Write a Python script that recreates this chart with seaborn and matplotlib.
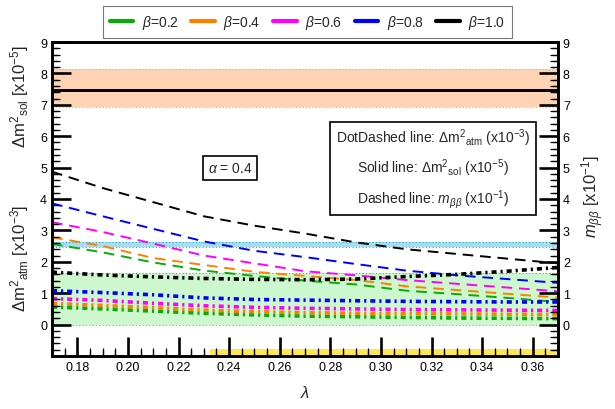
import numpy as np
import pandas as pd
import matplotlib
matplotlib.use("Agg")
import matplotlib.pyplot as plt
import matplotlib.transforms as mtransforms
from matplotlib.collections import LineCollection
from matplotlib.lines import Line2D
from matplotlib.ticker import MultipleLocator
import seaborn as sns

sns.set_theme(style="ticks")
plt.rcParams['font.family'] = ['Liberation Sans', 'DejaVu Sans']
plt.rcParams['mathtext.fontset'] = 'custom'
plt.rcParams['mathtext.rm'] = 'Liberation Sans'
plt.rcParams['mathtext.it'] = 'Liberation Sans:italic'
plt.rcParams['mathtext.bf'] = 'Liberation Sans:bold'
plt.rcParams.update({
    'axes.linewidth': 1.9, 'axes.edgecolor': 'black',
    'xtick.direction': 'in', 'ytick.direction': 'in',
    'xtick.bottom': True, 'ytick.left': True,
    'xtick.major.size': 14, 'ytick.major.size': 14,
    'xtick.minor.size': 6, 'ytick.minor.size': 6,
    'xtick.major.width': 1.9, 'ytick.major.width': 1.9,
    'xtick.minor.width': 0.9, 'ytick.minor.width': 0.9,
    'xtick.color': 'black', 'ytick.color': 'black',
    'xtick.labelsize': 9, 'ytick.labelsize': 9,
})

# ---- data ----
lam = [0.17, 0.19, 0.21, 0.23, 0.25, 0.27, 0.29, 0.31, 0.33, 0.35, 0.37]
betas = ["0.2", "0.4", "0.6", "0.8", "1.0"]
colors = ["#0aaa0a", "#ff8000", "#ff00ff", "#0000ff", "#000000"]

# m_bb (x10^-1), dashed
mbb_02 = [2.57, 2.30, 1.98, 1.72, 1.55, 1.40, 1.28, 1.08, 0.97, 0.85, 0.72]
mbb_04 = [2.78, 2.50, 2.12, 1.90, 1.68, 1.55, 1.42, 1.22, 1.10, 0.98, 0.86]
mbb_06 = [3.26, 2.95, 2.58, 2.20, 1.95, 1.70, 1.57, 1.42, 1.30, 1.18, 1.06]
mbb_08 = [3.86, 3.45, 3.05, 2.65, 2.35, 2.15, 1.93, 1.72, 1.57, 1.45, 1.33]
mbb_10 = [4.87, 4.35, 3.90, 3.45, 3.15, 2.90, 2.62, 2.40, 2.25, 2.10, 1.95]

# dm2_atm (x10^-3), dot-dashed
atm_02 = [0.56, 0.50, 0.43, 0.36, 0.31, 0.27, 0.25, 0.23, 0.21, 0.20, 0.19]
atm_04 = [0.67, 0.61, 0.54, 0.46, 0.41, 0.38, 0.36, 0.35, 0.34, 0.33, 0.32]
atm_06 = [0.83, 0.77, 0.68, 0.60, 0.55, 0.52, 0.50, 0.48, 0.47, 0.46, 0.45]
atm_08 = [1.08, 1.02, 0.95, 0.85, 0.80, 0.78, 0.76, 0.74, 0.73, 0.72, 0.72]
atm_10 = [1.67, 1.58, 1.52, 1.47, 1.44, 1.43, 1.45, 1.53, 1.60, 1.70, 1.82]

# dm2_sol (x10^-5), solid
sol_val = [7.48] * 5

# experimental bands
sol_band = (6.93, 8.13)
atm_band = (0.0, 1.65)
mbb_band = (2.47, 2.62)
lam_band = (0.2325, 0.37)
lam_band_y = (-1.0, -0.78)

xticks = [0.18, 0.20, 0.22, 0.24, 0.26, 0.28, 0.30, 0.32, 0.34, 0.36]
xticklabels = ["0.18", "0.20", "0.22", "0.24", "0.26", "0.28", "0.30", "0.32", "0.34", "0.36"]
yticks = [0, 1, 2, 3, 4, 5, 6, 7, 8, 9]

mbb = [mbb_02, mbb_04, mbb_06, mbb_08, mbb_10]
atm = [atm_02, atm_04, atm_06, atm_08, atm_10]

# ---- figure ----
fig = plt.figure(figsize=(6.15, 4.10), dpi=100)
ax = fig.add_axes([52/615, 53/410, 506/615, 314/410])

ax.axhspan(*sol_band, color="#fdd3b3", lw=0, zorder=0)
for yv in sol_band:
    ax.axhline(yv, color="#f0a070", lw=0.8, ls=(0, (1, 2)), zorder=0.5)
ax.axhspan(*atm_band, color="#cdf7cd", lw=0, zorder=0)
ax.axhline(atm_band[1], color="#40c040", lw=0.8, ls=(0, (1, 2)), zorder=0.5)
ax.axhline(atm_band[0], color="#999999", lw=0.8, ls=(0, (1, 2)), zorder=0.5)
ax.axhspan(*mbb_band, color="#a8dcee", lw=0, zorder=0)
for yv in mbb_band:
    ax.axhline(yv, color="#20b8c8", lw=0.8, ls=(0, (1, 2)), zorder=0.5)
ax.fill_between(lam_band, lam_band_y[0], lam_band_y[1], color="#ffe84d", lw=0, zorder=0)

for b, c, yv in zip(betas, colors, sol_val):
    sns.lineplot(x=[lam[0], lam[-1]], y=[yv, yv], color=c, lw=2, ax=ax, zorder=3)
for b, c, ys in zip(betas, colors, mbb):
    sns.lineplot(x=lam, y=ys, color=c, lw=1.4, ax=ax, linestyle=(0, (5.5, 3.5)), zorder=3)
for b, c, ys in zip(betas, colors, atm):
    sns.lineplot(x=lam, y=ys, color=c, lw=2.6, ax=ax, linestyle=(0, (1.4, 1.1, 0.6, 1.1)), zorder=3)

ax.set_xlim(0.17, 0.37)
ax.set_ylim(-1, 9)
ax.set_xticks(xticks)
ax.set_xticklabels(xticklabels)
ax.set_yticks(yticks)
ax.set_xlabel(r"$\lambda$", fontsize=12, labelpad=8)
ax.set_ylabel("")

ax2 = ax.twinx()
ax2.set_ylim(-1, 9)
ax2.set_yticks(yticks)

# minor ticks (locator-based, plus explicit short tick strokes from the same locators)
ax.xaxis.set_minor_locator(MultipleLocator(0.005))
ax.yaxis.set_minor_locator(MultipleLocator(0.2))
ax2.yaxis.set_minor_locator(MultipleLocator(0.2))
ax.tick_params(axis="x", which="both", bottom=True, top=False)
ax.tick_params(axis="y", which="both", left=True, right=False)
ax2.tick_params(axis="y", which="both", right=True, left=False)

ymin_locs = [v for v in MultipleLocator(0.2).tick_values(-1, 9)
             if -1 < v < 9 and abs(v - round(v)) > 1e-6]
xmin_locs = [v for v in MultipleLocator(0.005).tick_values(0.17, 0.37)
             if 0.17 < v < 0.37 and abs(v / 0.02 - round(v / 0.02)) > 1e-6]
ty = mtransforms.blended_transform_factory(ax.transAxes, ax.transData)
tx = mtransforms.blended_transform_factory(ax.transData, ax.transAxes)
lx = 6 / 506
ly = 6 / 314
segs_y = [[(0, v), (lx, v)] for v in ymin_locs] + [[(1 - lx, v), (1, v)] for v in ymin_locs]
segs_x = [[(v, 0), (v, ly)] for v in xmin_locs]
ax.add_collection(LineCollection(segs_y, colors="black", linewidths=0.9, transform=ty,
                                 zorder=4, clip_on=False))
ax.add_collection(LineCollection(segs_x, colors="black", linewidths=0.9, transform=tx,
                                 zorder=4, clip_on=False))
ax.set_xlim(0.17, 0.37)
ax.set_ylim(-1, 9)

ax.text(0.352, 0.599, r"$\alpha$ = 0.4", transform=ax.transAxes, ha="center", va="center",
        fontsize=10, bbox=dict(boxstyle="square,pad=0.35", fc="white", ec="black", lw=1.2), zorder=5)
ax.text(0.753, 0.599,
        "DotDashed line: Δm$^{2}$$_{\\rm atm}$ (x10$^{-3}$)\n"
        "Solid line: Δm$^{2}$$_{\\rm sol}$ (x10$^{-5}$)\n"
        "Dashed line: $m_{\\beta\\beta}$ (x10$^{-1}$)",
        transform=ax.transAxes, ha="center", va="center", multialignment="center",
        fontsize=10, linespacing=1.55,
        bbox=dict(boxstyle="square,pad=0.4", fc="white", ec="black", lw=1.2), zorder=5)

fig.text(20/615, 1 - 97/410, "Δm$^{2}$$_{\\rm sol}$ [x10$^{-5}$]", rotation=90,
         ha="center", va="center", fontsize=12)
fig.text(20/615, 1 - 258/410, "Δm$^{2}$$_{\\rm atm}$ [x10$^{-3}$]", rotation=90,
         ha="center", va="center", fontsize=12)
fig.text(593/615, 1 - 197/410, "$m_{\\beta\\beta}$ [x10$^{-1}$]", rotation=90,
         ha="center", va="center", fontsize=12)

handles = [Line2D([0], [0], color=c, lw=3) for c in colors]
labels = [r"$\beta$=" + b for b in betas]
leg = fig.legend(handles, labels, loc="upper center", bbox_to_anchor=(0.5, 1.0), ncol=5,
                 fontsize=10, frameon=True, fancybox=False, edgecolor="#555555",
                 handlelength=1.7, columnspacing=0.9, handletextpad=0.6, borderpad=0.5)
leg.get_frame().set_linewidth(0.8)

fig.savefig("out.png", dpi=100)
